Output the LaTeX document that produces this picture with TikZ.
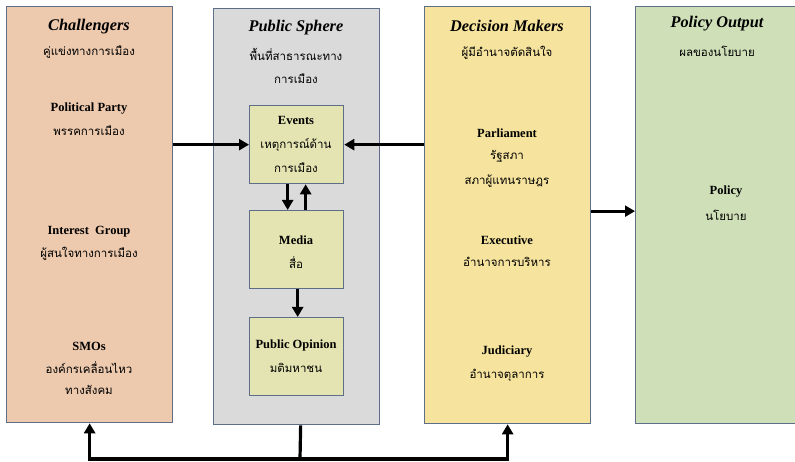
\documentclass[tikz,border=0pt]{standalone}
\usepackage{fontspec}
\setmainfont{Liberation Serif}
\newfontfamily\thai[Script=Thai]{Loma}
\usetikzlibrary{arrows.meta}
\definecolor{bordc}{HTML}{5E6E88}
\definecolor{chalc}{HTML}{EDC9AD}
\definecolor{psc}{HTML}{DADADA}
\definecolor{dmc}{HTML}{F6E39D}
\definecolor{poc}{HTML}{CFE0B8}
\definecolor{innc}{HTML}{E4E4B3}
\tikzset{
  panel/.style={draw=bordc, line width=1.3pt, minimum width=#1, anchor=north west, inner sep=0pt},
  inbox/.style={draw=bordc, line width=1.3pt, fill=innc, minimum width=94pt, minimum height=78pt, anchor=north west, inner sep=0pt},
  ttl/.style={font=\fontsize{16.3}{19}\selectfont\bfseries\itshape},
  en/.style={font=\fontsize{12.5}{15}\selectfont\bfseries},
  th/.style={font=\fontsize{11.5}{14}\selectfont\thai},
  arr/.style={line width=3.2pt, -{Triangle[length=10pt,width=11pt]}},
  ln/.style={line width=3.2pt}
}
\begin{document}
\begin{tikzpicture}[x=1pt,y=-1pt]
\useasboundingbox (0,0) rectangle (795,462);
\begin{scope}
\clip (0,0) rectangle (795,462);
\node[panel=166pt, minimum height=416pt, fill=chalc] (chal) at (6,6) {};
\node[panel=166pt, minimum height=416pt, fill=psc] (ps) at (213,8) {};
\node[panel=166pt, minimum height=417pt, fill=dmc] (dm) at (424,6) {};
\node[panel=170pt, minimum height=417pt, fill=poc] (po) at (635,6) {};
\end{scope}
\node[inbox] (ev) at (249,105) {};
\node[inbox] (med) at (249,210) {};
\node[inbox] (pop) at (249,317) {};
% Challengers
\node[ttl] (t1) at (89,27) {Challengers};
\node[th] (t1b) at (89,52) {คู่แข่งทางการเมือง};
\node[en] (c1) at (89,109) {Political Party};
\node[th] (c1b) at (89,131) {พรรคการเมือง};
\node[en] (c2) at (89,232) {Interest\ \ Group};
\node[th] (c2b) at (89,254) {ผู้สนใจทางการเมือง};
\node[en] (c3) at (89,346) {SMOs};
\node[th] (c3b) at (89,368) {องค์กรเคลื่อนไหว};
\node[th] (c3c) at (89,390) {ทางสังคม};
% Public sphere
\node[ttl] (t2) at (296,28) {Public Sphere};
\node[th] (t2b) at (296,54) {พื้นที่สาธารณะทาง};
\node[th] (t2c) at (296,79) {การเมือง};
\node[en] (e1) at (296,120) {Events};
\node[th] (e1b) at (296,145) {เหตุการณ์ด้าน};
\node[th] (e1c) at (296,168) {การเมือง};
\node[en] (m1) at (296,240) {Media};
\node[th] (m1b) at (296,263) {สื่อ};
\node[en] (p1) at (296,345) {Public Opinion};
\node[th] (p1b) at (296,368) {มติมหาชน};
% Decision makers
\node[ttl] (t3) at (507,26) {Decision Makers};
\node[th] (t3b) at (507,53) {ผู้มีอำนาจตัดสินใจ};
\node[en] (d1) at (507,133) {Parliament};
\node[th] (d1b) at (507,156) {รัฐสภา};
\node[th] (d1c) at (507,181) {สภาผู้แทนราษฎร};
\node[en] (d2) at (507,240) {Executive};
\node[th] (d2b) at (507,262) {อำนาจการบริหาร};
\node[en] (d3) at (507,352) {Judiciary};
\node[th] (d3b) at (507,375) {อำนาจตุลาการ};
% Policy output
\node[ttl] (t4) at (717,24) {Policy Output};
\node[th] (t4b) at (717,51) {ผลของนโยบาย};
\node[en] (o1) at (726,192) {Policy};
\node[th] (o1b) at (726,215) {นโยบาย};
% connectors
\draw[arr] (ev.west -| chal.east) -- (ev.west);
\draw[arr] (ev.east -| dm.west) -- (ev.east);
\draw[arr] ([xshift=-9pt]ev.south) -- ([xshift=-9pt]ev.south |- med.north);
\draw[arr] ([xshift=9pt]ev.south |- med.north) -- ([xshift=9pt]ev.south);
\draw[arr] ([xshift=1pt]med.south) -- ([xshift=1pt]pop.north);
\draw[arr] ([yshift=4pt]dm.east) -- ([yshift=4pt]dm.east -| po.west);
\coordinate (j) at (300,459);
\draw[ln] ([xshift=4pt]ps.south) -- (j);
\draw[arr] (j) -| (chal.south);
\draw[arr] (j) -| (dm.south);
\end{tikzpicture}
\end{document}
